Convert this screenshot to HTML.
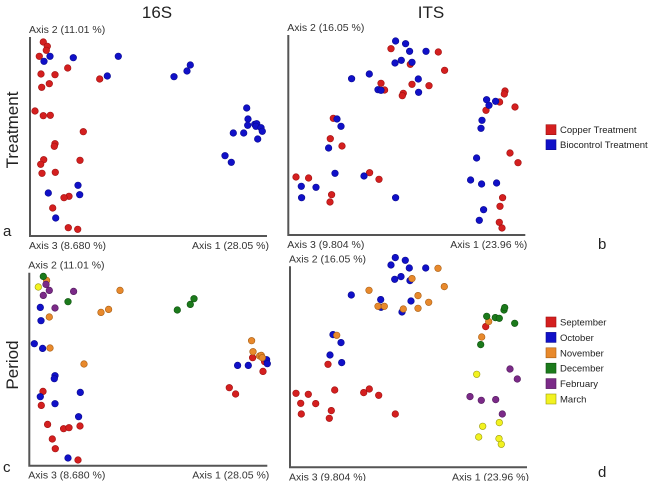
<!DOCTYPE html>
<html><head><meta charset="utf-8"><style>
body{margin:0;background:#fff;}
svg{display:block;font-family:"Liberation Sans","DejaVu Sans",sans-serif;}
</style></head><body>
<svg id="fig" width="656" height="481" viewBox="0 0 656 481">
<text x="157" y="18" font-size="17" text-anchor="middle" fill="#222">16S</text>
<text x="431" y="18" font-size="17" text-anchor="middle" fill="#222">ITS</text>
<text transform="translate(18,130) rotate(-90)" font-size="17" text-anchor="middle" fill="#222">Treatment</text>
<text transform="translate(18,365) rotate(-90)" font-size="17" text-anchor="middle" fill="#222">Period</text>
<text x="3" y="236" font-size="15" fill="#222">a</text>
<text x="598" y="249" font-size="15" fill="#222">b</text>
<text x="3" y="472" font-size="15" fill="#222">c</text>
<text x="598" y="477" font-size="15" fill="#222">d</text>
<g id="legend-treatment"></g>
<g id="legend-period"></g>
</svg>
<script>
// Panel a: 16S treatment
const aCopper=[[13.3,194],[17.3,189.7],[16.3,185.7],[9.3,179.7],[37.7,168],[11,162],[25,161.3],[69.7,157],[19.3,152.3],[11.7,148.7],[5,125],[13.3,120.3],[20.3,120.7],[53.3,104.3],[25,92.3],[24.3,89.7],[13.7,76.3],[10.7,71.7],[50,75.7],[12,62.7],[25.3,63.7],[39,39.7],[34,38.3],[22.7,28],[38.3,8.3],[47.7,6.7]];
const aBio=[[20,179.7],[14,174.7],[43.3,178.3],[88.3,179.7],[77.3,160],[144,159.3],[157,165],[160.3,171],[216.7,128],[218,117],[217.7,110.7],[224.7,111.7],[226.7,112.3],[226,109.7],[231,108.3],[232.3,104.7],[203.3,103],[213.7,103],[227.7,97],[195,80.3],[201.3,73.7],[48,50.7],[49.7,41.3],[18.3,43],[25.7,18]];
// Panel b: ITS treatment
const bCopper=[[102.7,186.3],[150,183],[122,170.7],[156.3,164.7],[92.7,151.7],[96.3,145],[123.7,150.7],[140.7,149.3],[115,141.7],[114,139.3],[216.7,144],[216,141],[211.3,133],[197.7,124.7],[226.7,128],[45,116.7],[42,96.3],[53.7,89],[221.7,82],[229.7,72.3],[7.7,58],[20.3,57],[81.3,62.3],[90.7,55.7],[43.3,40.3],[41.7,33],[214.3,37.3],[211.7,28.7],[211,12.7],[213.7,7]];
const bBio=[[107.3,194],[117.3,191.3],[121.3,183.7],[137.7,183.7],[106.7,172],[113,174.7],[123.7,172.7],[81,161],[63.3,156.3],[89.7,145.3],[92.7,144.7],[130,156],[130.3,142.7],[198.3,135.3],[200.7,129.7],[207.3,133.7],[48.7,116],[52.7,108.7],[193.7,114.7],[192.7,106.7],[40.3,87],[46.7,61.7],[75.7,59],[13,48.7],[27.7,47.7],[13.3,37.3],[107.3,37.3],[188.3,77],[182.3,55],[193.3,51],[208.3,52],[195.3,25.3],[191,14.7]];
// Panel c: 16S period
const cSep=[[13.7,74.3],[12,60.3],[18.3,41.3],[34.3,37],[39.7,38],[50.7,39.7],[23,26.7],[26,17],[48.7,5.7],[223.3,108],[235.3,104],[233.7,94.3],[200,78],[206.3,71.7]];
const cOct=[[11,158.3],[11.7,145],[5,122],[13.3,117.3],[25.7,90],[25,87],[11,69],[51,73.3],[25.7,62],[49.3,49],[38.7,7.7],[208.3,100.3],[219,100.3],[237.3,106],[238,102]];
const cNov=[[17.3,185.3],[90.7,175.3],[71.7,153.3],[79.3,156.3],[20,148.7],[20.7,117.7],[54.7,101.7],[222.3,125],[223.7,114],[230.3,109.7],[232,110.3],[233,108]];
const cDec=[[14,189.3],[38.7,164],[148,155.7],[161,161.3],[164.7,167]];
const cFeb=[[16.7,181.3],[20,175.3],[14,170.3],[44.3,174.3],[25.7,157.7]];
const cMar=[[9,178.7]];
// Panel d: ITS period
const dSep=[[195.7,140.7],[38,103],[6,74],[18.3,73],[10.7,64],[25.7,63.7],[44.7,77.3],[73.7,74.7],[79.3,78.3],[88.7,72],[11.3,53.3],[41.3,56.7],[39.3,49],[105.3,53.3]];
const dOct=[[105.3,209.7],[115.3,207],[101,202.3],[119.3,199.3],[135.7,199.3],[104.7,188],[111,190.7],[120,186.7],[61.3,172.3],[90.7,167.7],[91,160],[121,166.3],[112,155.3],[43,132.7],[51,124.7],[40,112.3],[51.7,104.7]];
const dNov=[[148,199],[122,188.7],[154.3,180.7],[79,177],[88,161],[94.3,161],[128,171.7],[138.7,165],[113.3,158.3],[128,159],[46.7,132],[198.7,145.7],[191.7,130.3]];
const dDec=[[196.7,151],[205.3,149.7],[209.3,149],[214,157.3],[214.7,159.7],[224.7,144],[190.7,122.7]];
const dFeb=[[220,98.3],[227.3,88.3],[180,70.7],[191.3,67],[205.7,67.7],[212.3,53.3]];
const dMar=[[186.7,93],[192.7,41],[209.3,44.7],[188.7,30.3],[209,28.7],[211.3,23]];

const treatLabels=["Copper Treatment","Biocontrol Treatment"];
const periodLabels=["September","October","November","December","February","March"];
const COL={red:"#d41f1f",blue:"#1010c8",orange:"#e8892c",green:"#1b7a1b",purple:"#7b2a88",yellow:"#f2f220"};
const STROKE={red:"#a01010",blue:"#0a0a90",orange:"#a85e14",green:"#0f520f",purple:"#521a5c",yellow:"#9a9a10"};
const NS="http://www.w3.org/2000/svg";
const svg=document.getElementById('fig');
function mk(tag,attrs,parent){const e=document.createElementNS(NS,tag);for(const k in attrs)e.setAttribute(k,attrs[k]);(parent||svg).appendChild(e);return e;}

function panel(id,ox,oy,xlen,ylen,yLab,xLabL,xLabR,series){
  const g=mk('g',{});
  
  
  const xs=v=>ox+v, ys=v=>oy-v;
  const ax=mk('path',{d:`M${ox} ${oy-ylen}V${oy}H${ox+xlen}`,fill:'none',stroke:'#555','stroke-width':2},g);
  
  
  const t1=mk('text',{x:ox-1,y:oy-ylen-4,'font-size':10.5,fill:'#333'},g);t1.textContent=yLab;
  
  
  const t2=mk('text',{x:ox-1,y:oy+13,'font-size':10.5,fill:'#333'},g);t2.textContent=xLabL;
  
  
  const t3=mk('text',{x:ox+xlen+2,y:oy+13,'font-size':10.5,fill:'#333','text-anchor':'end'},g);t3.textContent=xLabR;
  
  
  series.forEach(([pts,c,nm])=>{pts.forEach(p=>{
    const d=mk('circle',{cx:xs(p[0]),cy:ys(p[1]),r:3.3,fill:COL[c],stroke:STROKE[c],'stroke-width':0.6},g);
    
    
  });});
}
panel('a',30,236,237,199,'Axis 2 (11.01 %)','Axis 3 (8.680 %)','Axis 1 (28.05 %)',[[aCopper,'red','copper'],[aBio,'blue','biocontrol']]);
panel('b',288.3,235,237,200,'Axis 2 (16.05 %)','Axis 3 (9.804 %)','Axis 1 (23.96 %)',[[bCopper,'red','copper'],[bBio,'blue','biocontrol']]);
panel('c',29.3,465.7,238,193,'Axis 2 (11.01 %)','Axis 3 (8.680 %)','Axis 1 (28.05 %)',[[cSep,'red','september'],[cOct,'blue','october'],[cNov,'orange','november'],[cDec,'green','december'],[cFeb,'purple','february'],[cMar,'yellow','march']]);
panel('d',290,467.3,237,201,'Axis 2 (16.05 %)','Axis 3 (9.804 %)','Axis 1 (23.96 %)',[[dSep,'red','september'],[dOct,'blue','october'],[dNov,'orange','november'],[dDec,'green','december'],[dFeb,'purple','february'],[dMar,'yellow','march']]);

function legend(gid,labels,cols,y0,dy){
  const g=document.getElementById(gid);
  labels.forEach((l,i)=>{
    const y=y0+i*dy;
    const r=mk('rect',{x:546,y:y-5,width:10,height:10,fill:COL[cols[i]],stroke:STROKE[cols[i]],'stroke-width':0.6},g);
    
    
    const t=mk('text',{x:560,y:y+3.5,'font-size':9.5,fill:'#222'},g);t.textContent=l;
    
    
  });
}
legend('legend-treatment',treatLabels,['red','blue'],129.7,15);
legend('legend-period',periodLabels,['red','blue','orange','green','purple','yellow'],322,15.4);
</script>
</body></html>
